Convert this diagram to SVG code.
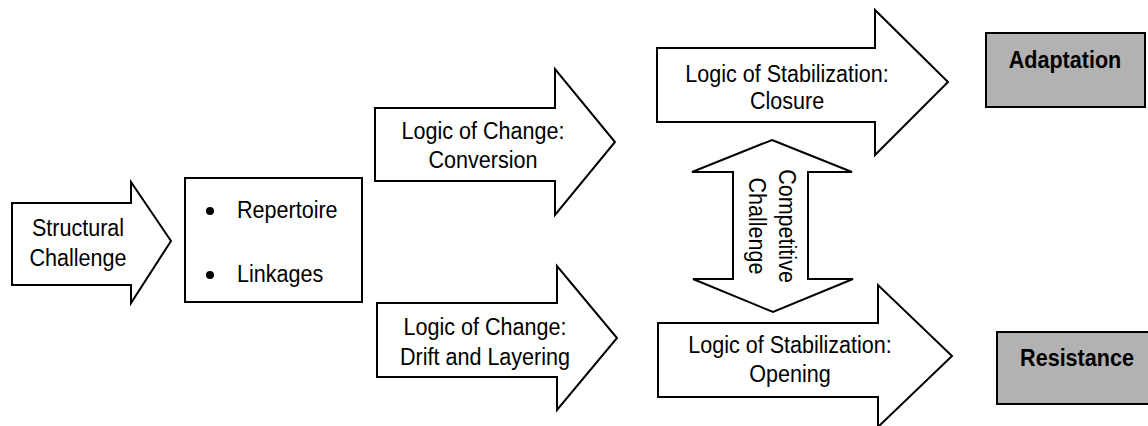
<svg xmlns="http://www.w3.org/2000/svg" width="1148" height="426" viewBox="0 0 1148 426">
<style>
.shape{fill:#fff;stroke:#000;stroke-width:2;stroke-linejoin:miter}
.res{fill:#b2b2b2;stroke:#000;stroke-width:2}
text{font-family:"Liberation Sans",Arial,sans-serif;font-size:24.5px;fill:#000}
.c{text-anchor:middle}
.b{font-weight:bold}
</style>
<rect width="1148" height="426" fill="#fff"/>
<g id="structural-challenge">
<polygon class="shape" points="12,203 131,203 131,182 171,241 131,303 131,285 12,285"/>
<text class="c" transform="translate(78,236) scale(0.88,1)">Structural</text>
<text class="c" transform="translate(78,266) scale(0.88,1)">Challenge</text>
</g>
<g id="repertoire-linkages">
<rect class="shape" x="185" y="178" width="177" height="124"/>
<circle cx="210" cy="211" r="4"/>
<circle cx="210" cy="275" r="4"/>
<text transform="translate(237,218) scale(0.88,1)">Repertoire</text>
<text transform="translate(237,282) scale(0.88,1)">Linkages</text>
</g>
<g id="change-conversion">
<polygon class="shape" points="375,108 555,108 555,69 615,142 555,215 555,181 375,181"/>
<text class="c" transform="translate(483,139) scale(0.88,1)">Logic of Change:</text>
<text class="c" transform="translate(483,168) scale(0.88,1)">Conversion</text>
</g>
<g id="change-drift">
<polygon class="shape" points="377,303 557,303 557,266 617,338 557,410 557,377 377,377"/>
<text class="c" transform="translate(485,335) scale(0.88,1)">Logic of Change:</text>
<text class="c" transform="translate(485,365) scale(0.88,1)">Drift and Layering</text>
</g>
<g id="stabilization-closure">
<polygon class="shape" points="657,48 875,48 875,10 948,82 875,155 875,122 657,122"/>
<text class="c" transform="translate(787,82) scale(0.88,1)">Logic of Stabilization:</text>
<text class="c" transform="translate(787,109) scale(0.88,1)">Closure</text>
</g>
<g id="stabilization-opening">
<polygon class="shape" points="658,323 878,323 878,285 952,356 878,427 878,397 658,397"/>
<text class="c" transform="translate(790,353) scale(0.88,1)">Logic of Stabilization:</text>
<text class="c" transform="translate(790,382) scale(0.88,1)">Opening</text>
</g>
<g id="connectors">
<g id="competitive-challenge">
<polygon class="shape" points="772,140 852,172 808,172 808,279 853,279 773,312 693,279 733,279 733,172 692,172"/>
<g transform="translate(772,226) rotate(90) scale(0.88,1)">
<text class="c" x="0" y="-7">Competitive</text>
<text class="c" x="0" y="23">Challenge</text>
</g>
</g>
</g>
<g id="adaptation">
<rect class="res" x="986" y="33" width="159" height="74"/>
<text class="c b" transform="translate(1065,68) scale(0.88,1)">Adaptation</text>
</g>
<g id="resistance">
<rect class="res" x="997" y="332" width="152" height="72"/>
<text class="c b" transform="translate(1077,366) scale(0.88,1)">Resistance</text>
</g>
</svg>
